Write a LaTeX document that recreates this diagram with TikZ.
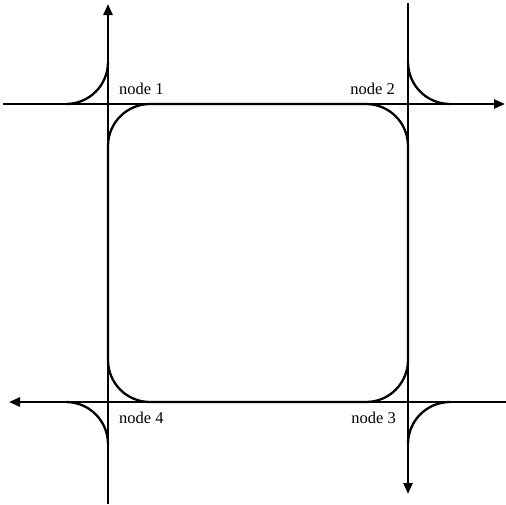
\documentclass[tikz,border=0pt]{standalone}
\usepackage{fontspec}
\setmainfont{Liberation Serif}
\usetikzlibrary{calc, arrows.meta, positioning}

\begin{document}
\begin{tikzpicture}[x=1pt, y=-1pt, >={Triangle[length=11pt, width=9pt]},
    road/.style={line width=2.4pt},
    turn/.style={line width=2.3pt, rounded corners=42pt},
    lbl/.style={font=\fontsize{16.5}{19}\selectfont, inner sep=0pt}
  ]
  \useasboundingbox (0,0) rectangle (506,504);

  % junctions
  \coordinate (n1) at (108,104);
  \coordinate (n2) at (408,104);
  \coordinate (n3) at (408,402);
  \coordinate (n4) at (108,402);

  % road ends
  \coordinate (w1) at (3,104);   \coordinate (e1) at (505,104);
  \coordinate (e2) at (506,402); \coordinate (w2) at (9,402);
  \coordinate (s1) at (108,504); \coordinate (t1) at (108,4);
  \coordinate (t2) at (408,3);   \coordinate (s2) at (408,494);

  % roads
  \draw[road,->] (w1) -- (e1);
  \draw[road,->] (e2) -- (w2);
  \draw[road,->] (s1) -- (t1);
  \draw[road,->] (t2) -- (s2);

  % inner ring
  \draw[turn] (n1) rectangle (n3);

  % outer turns
  \foreach \c/\sx/\sy in {n1/-1/-1, n2/1/-1, n3/1/1, n4/-1/1}
    \draw[turn] ($(\c)+(\sx*42,0)$) -| ($(\c)+(0,\sy*42)$);

  % labels
  \node[lbl, anchor=base west] (l1) at ($(n1)+(11,-10)$) {node 1};
  \node[lbl, anchor=base east] (l2) at ($(n2)+(-13,-10)$) {node 2};
  \node[lbl, anchor=base east] (l3) at ($(n3)+(-12,21)$) {node 3};
  \node[lbl, anchor=base west] (l4) at ($(n4)+(11,21)$) {node 4};
\end{tikzpicture}
\end{document}
